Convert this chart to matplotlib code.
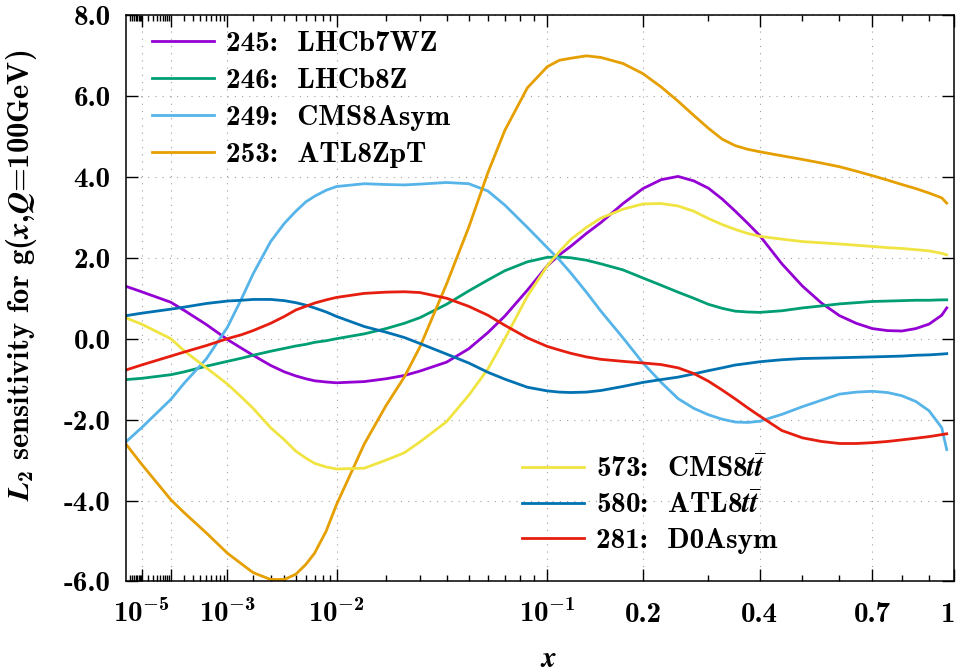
import numpy as np
import matplotlib
matplotlib.use("Agg")
import matplotlib.pyplot as plt

plt.rcParams['font.family'] = 'cmb10'
plt.rcParams['mathtext.fontset'] = 'custom'
plt.rcParams['mathtext.rm'] = 'cmb10'
plt.rcParams['mathtext.bf'] = 'cmb10'
plt.rcParams['mathtext.it'] = 'STIXGeneral:italic:bold'
plt.rcParams['axes.unicode_minus'] = False

FS = 21

x = [1e-6, 1e-5, 1e-4, 2e-4, 5e-4, 1e-3, 1.5e-3, 2e-3, 3e-3, 4e-3, 5e-3, 6e-3, 7e-3, 8.5e-3,
     1e-2, 1.5e-2, 2e-2, 2.5e-2, 3e-2, 4e-2, 5e-2, 6e-2, 7e-2, 8.5e-2, 0.1, 0.11, 0.12,
     0.135, 0.15, 0.175, 0.2, 0.225, 0.25, 0.275, 0.3, 0.325, 0.35, 0.375, 0.4, 0.45,
     0.5, 0.55, 0.6, 0.65, 0.7, 0.75, 0.8, 0.85, 0.9, 0.95, 0.97]

lhcb7wz = [1.29, 1.16, 0.90, 0.70, 0.35, -0.02, -0.24, -0.41, -0.66, -0.82, -0.92, -0.99, -1.04, -1.07,
           -1.09, -1.06, -0.99, -0.91, -0.80, -0.58, -0.25, 0.15, 0.56, 1.20, 1.80, 2.07, 2.28,
           2.60, 2.87, 3.34, 3.71, 3.93, 4.01, 3.90, 3.72, 3.45, 3.15, 2.85, 2.55, 1.85,
           1.30, 0.88, 0.57, 0.38, 0.25, 0.20, 0.19, 0.25, 0.36, 0.58, 0.76]
lhcb8z = [-1.01, -0.98, -0.89, -0.82, -0.68, -0.56, -0.48, -0.41, -0.31, -0.24, -0.18, -0.14, -0.09, -0.05,
          0.00, 0.12, 0.25, 0.38, 0.52, 0.85, 1.18, 1.45, 1.68, 1.90, 2.01, 2.02, 2.00,
          1.94, 1.85, 1.70, 1.50, 1.32, 1.15, 1.00, 0.85, 0.75, 0.68, 0.66, 0.65, 0.69,
          0.76, 0.81, 0.86, 0.89, 0.92, 0.93, 0.94, 0.95, 0.95, 0.96, 0.96]
cms8asym = [-2.54, -2.20, -1.50, -1.10, -0.50, 0.28, 1.00, 1.60, 2.40, 2.85, 3.15, 3.38, 3.52, 3.67,
            3.76, 3.83, 3.81, 3.80, 3.82, 3.86, 3.83, 3.65, 3.30, 2.75, 2.25, 1.95, 1.63,
            1.15, 0.68, 0.02, -0.60, -1.08, -1.48, -1.72, -1.88, -1.99, -2.06, -2.07, -2.04, -1.87,
            -1.68, -1.52, -1.37, -1.32, -1.30, -1.33, -1.41, -1.55, -1.78, -2.20, -2.74]
atl8zpt = [-2.62, -3.10, -3.98, -4.30, -4.80, -5.30, -5.57, -5.78, -5.95, -5.95, -5.82, -5.58, -5.30, -4.75,
           -4.10, -2.60, -1.65, -0.95, -0.20, 1.35, 2.75, 4.10, 5.15, 6.20, 6.72, 6.88, 6.93,
           6.99, 6.95, 6.80, 6.55, 6.22, 5.87, 5.52, 5.20, 4.93, 4.77, 4.68, 4.62, 4.52,
           4.43, 4.34, 4.25, 4.14, 4.03, 3.92, 3.81, 3.71, 3.60, 3.48, 3.35]
cms8tt = [0.51, 0.36, 0.00, -0.30, -0.72, -1.12, -1.45, -1.72, -2.20, -2.50, -2.78, -2.95, -3.08, -3.17,
          -3.22, -3.20, -3.00, -2.82, -2.55, -2.05, -1.40, -0.75, 0.00, 1.05, 1.80, 2.15, 2.45,
          2.75, 2.98, 3.20, 3.33, 3.34, 3.28, 3.15, 2.97, 2.82, 2.70, 2.60, 2.53, 2.46,
          2.40, 2.37, 2.34, 2.31, 2.28, 2.25, 2.23, 2.20, 2.17, 2.11, 2.07]
atl8tt = [0.57, 0.63, 0.73, 0.78, 0.87, 0.93, 0.95, 0.97, 0.97, 0.94, 0.89, 0.83, 0.76, 0.66,
          0.55, 0.30, 0.16, 0.03, -0.12, -0.38, -0.60, -0.83, -1.00, -1.20, -1.29, -1.32, -1.33,
          -1.32, -1.28, -1.18, -1.08, -1.01, -0.95, -0.87, -0.79, -0.72, -0.65, -0.61, -0.57, -0.52,
          -0.49, -0.48, -0.47, -0.46, -0.45, -0.44, -0.43, -0.41, -0.40, -0.38, -0.37]
d0asym = [-0.77, -0.65, -0.43, -0.33, -0.17, 0.00, 0.10, 0.20, 0.38, 0.55, 0.71, 0.80, 0.88, 0.96,
          1.02, 1.12, 1.15, 1.16, 1.14, 1.00, 0.80, 0.58, 0.33, 0.02, -0.19, -0.28, -0.36,
          -0.45, -0.51, -0.56, -0.60, -0.64, -0.72, -0.86, -1.05, -1.27, -1.49, -1.71, -1.91, -2.27,
          -2.45, -2.54, -2.59, -2.59, -2.57, -2.54, -2.50, -2.46, -2.42, -2.37, -2.35]

series1 = [(lhcb7wz, '#9400d3', '245:  LHCb7WZ'),
           (lhcb8z, '#009e73', '246:  LHCb8Z'),
           (cms8asym, '#56b4e9', '249:  CMS8Asym'),
           (atl8zpt, '#e69f00', '253:  ATL8ZpT')]
series2 = [(cms8tt, '#f0e442', r'573:  CMS8$t\bar{t}$'),
           (atl8tt, '#0072b2', r'580:  ATL8$t\bar{t}$'),
           (d0asym, '#e51e10', '281:  D0Asym')]

xmajor = [1e-5, 1e-4, 1e-3, 1e-2, 0.1, 0.2, 0.4, 0.7, 1.0]
xlabels = [r'$10^{-5}$', '', r'$10^{-3}$', r'$10^{-2}$', r'$10^{-1}$', '0.2', '0.4', '0.7', '1']
xminor = [k * 10.0**e for e in range(-6, -1) for k in range(2, 10)] + [0.3, 0.5, 0.6, 0.8, 0.9]
yticks = [-6, -4, -2, 0, 2, 4, 6, 8]
ylabels = ['%.1f' % v for v in yticks]


def fwd(v):
    v = np.asarray(v, dtype=float)
    return np.sign(v) * np.abs(v) ** (2.0 / 7.0)


def inv(t):
    t = np.asarray(t, dtype=float)
    return np.sign(t) * np.abs(t) ** 3.5


fig = plt.figure(figsize=(9.57, 6.71), dpi=100)
ax = fig.add_axes([0.1321, 0.1334, 0.8648, 0.8443])
ax.set_xscale('function', functions=(fwd, inv))

h1 = []
for ys, c, lab in series1:
    h1 += ax.plot(x, ys, color=c, lw=2.0, label=lab)
h2 = []
for ys, c, lab in series2:
    h2 += ax.plot(x, ys, color=c, lw=2.0, label=lab)

ax.set_xlim(1e-6, 1.0)
ax.set_ylim(-6, 8)
ax.set_xticks(xmajor)
ax.set_xticklabels(xlabels)
ax.set_xticks(xminor, minor=True)
ax.set_yticks(yticks)
ax.set_yticklabels(ylabels)

ax.tick_params(which='both', direction='in', top=True, right=True, width=1.0, labelsize=FS)
ax.tick_params(which='major', length=8.6)
ax.tick_params(which='minor', length=4.3)
ax.tick_params(axis='y', pad=11.5)
ax.tick_params(axis='x', pad=29)
for t in ax.xaxis.get_major_ticks():
    t.label1.set_va('baseline')
ax.xaxis.get_major_ticks()[-1].label1.set_ha('right')

for s in ax.spines.values():
    s.set_linewidth(1.1)

ax.set_axisbelow(True)
ax.grid(which='major', color='#a0a0a0', lw=0.8, linestyle=(0, (1, 5.5)))

ax.set_ylabel(r'$L_2$ sensitivity for g($x$,$Q$=100GeV)', fontsize=22)
ax.yaxis.set_label_coords(-0.106, 0.541)
ax.set_xlabel(r'$x$', fontsize=FS)
ax.xaxis.set_label_coords(0.5094, -0.115)

leg1 = ax.legend(handles=h1, loc='upper left', bbox_to_anchor=(0.031, 0.972),
                 frameon=False, borderpad=0, borderaxespad=0, handlelength=2.12,
                 handletextpad=0.42, labelspacing=0.36, prop={'size': FS})
ax.add_artist(leg1)
ax.legend(handles=h2, loc='upper left', bbox_to_anchor=(0.4777, 0.222),
          frameon=False, borderpad=0, borderaxespad=0, handlelength=2.12,
          handletextpad=0.42, labelspacing=0.28, prop={'size': FS})

fig.savefig('out.png', dpi=100)
